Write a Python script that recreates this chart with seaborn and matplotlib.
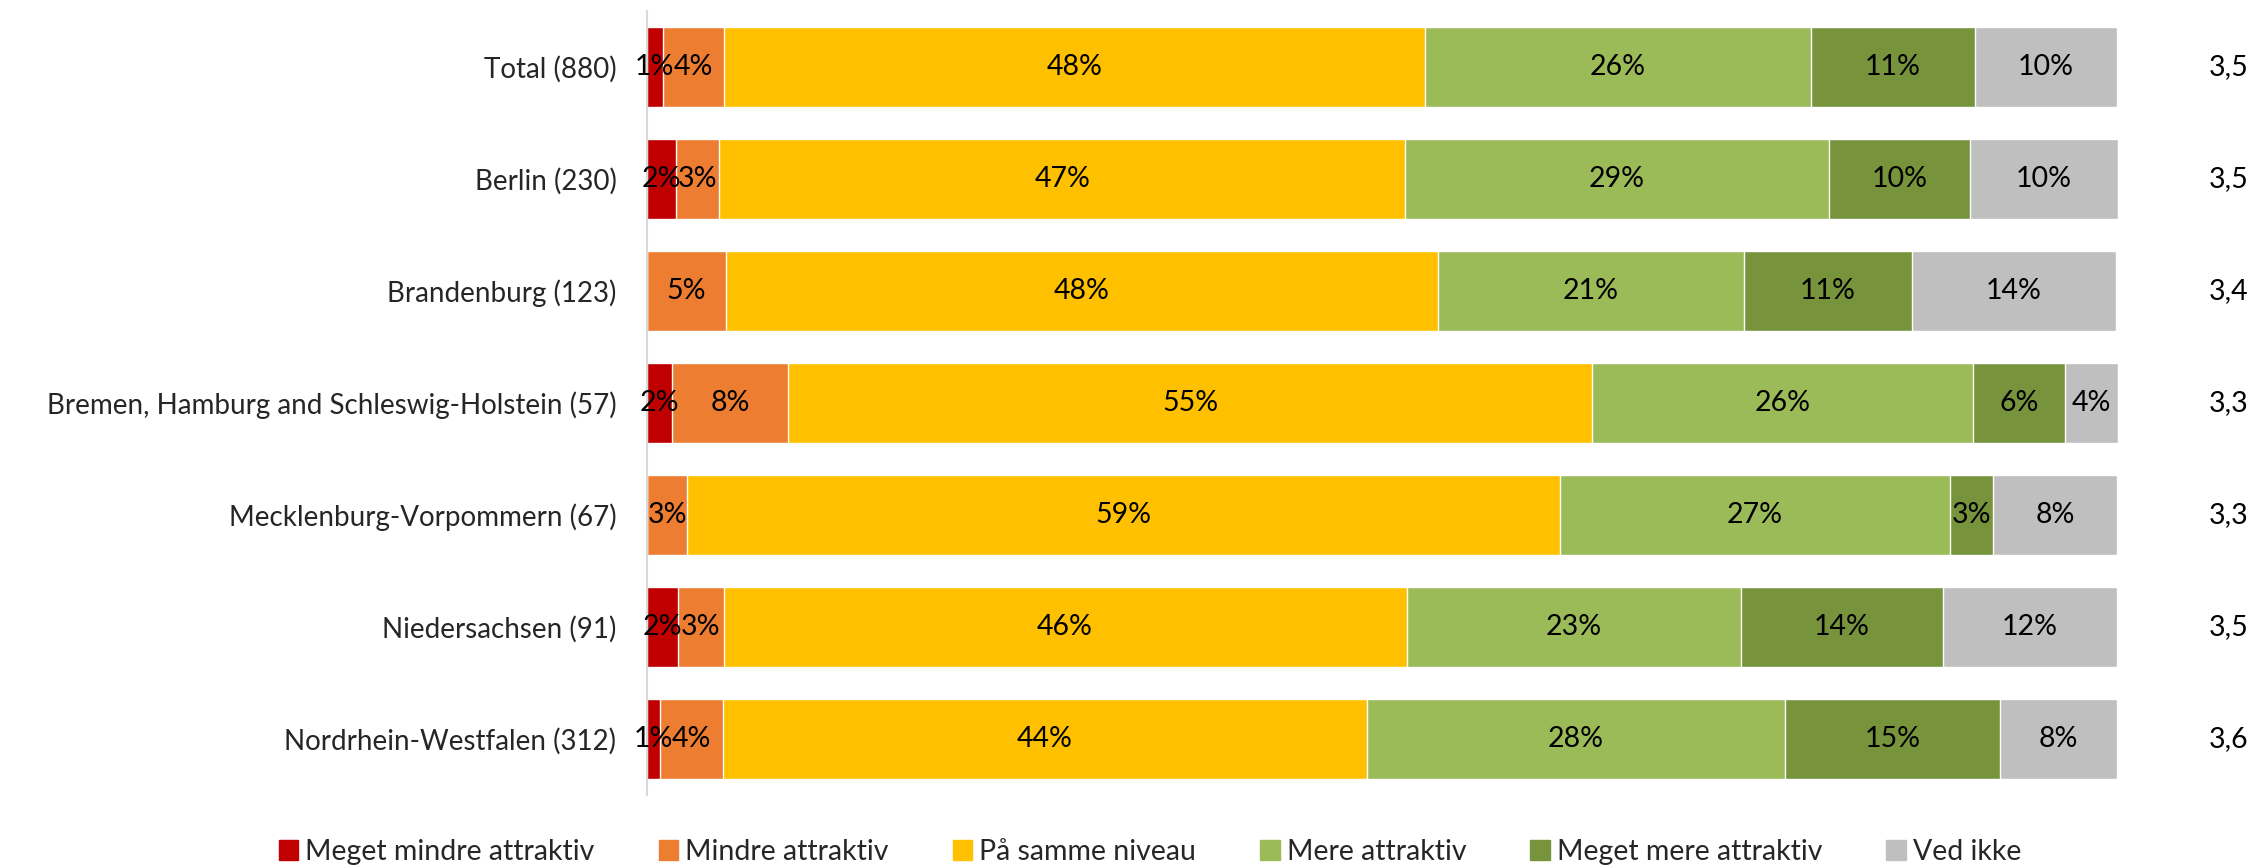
import numpy as np
import pandas as pd
import seaborn as sns
import matplotlib.pyplot as plt

sns.set_theme(style="white")
plt.rcParams['font.family'] = ['Lato', 'DejaVu Sans']

# regions (rows, top to bottom)
regions = ['Total (880)', 'Berlin (230)', 'Brandenburg (123)',
           'Bremen, Hamburg and Schleswig-Holstein (57)',
           'Mecklenburg-Vorpommern (67)', 'Niedersachsen (91)',
           'Nordrhein-Westfalen (312)']

answers = ['Meget mindre attraktiv', 'Mindre attraktiv', 'På samme niveau',
           'Mere attraktiv', 'Meget mere attraktiv', 'Ved ikke']

# shares in percent
meget_mindre = [1.07, 2.0, 0.0, 1.73, 0.0, 2.08, 0.9]
mindre = [4.13, 2.9, 5.37, 7.84, 2.74, 3.12, 4.26]
samme = [47.7, 46.65, 48.4, 54.7, 59.3, 46.45, 43.8]
mere = [26.2, 28.8, 20.8, 25.9, 26.55, 22.7, 28.4]
meget_mere = [11.15, 9.6, 11.4, 6.24, 2.94, 13.74, 14.6]
ved_ikke = [9.7, 10.07, 13.9, 3.6, 8.4, 11.88, 8.0]

# average score shown on the right
means = [3.5, 3.5, 3.4, 3.3, 3.3, 3.5, 3.6]

colors = ['#C00000', '#ED7D31', '#FFC000', '#9BBB59', '#77933C', '#BFBFBF']

df = pd.DataFrame({'region': regions,
                   answers[0]: meget_mindre, answers[1]: mindre,
                   answers[2]: samme, answers[3]: mere,
                   answers[4]: meget_mere, answers[5]: ved_ikke})
cum = df[answers].cumsum(axis=1)

fig = plt.figure(figsize=(22.56, 8.67), dpi=100)
ax = fig.add_axes([0.2868, 0.083, 0.652, 0.904])

# stacked bars: draw cumulative layers from the widest to the narrowest
for i in range(len(answers) - 1, -1, -1):
    sns.barplot(x=cum[answers[i]], y=df['region'], orient='h', color=colors[i],
                width=0.714, edgecolor='white', linewidth=1.0,
                saturation=1, ax=ax)

# percent labels in the middle of each segment
for r in range(len(regions)):
    start = 0
    for a in answers:
        v = df.loc[r, a]
        if v > 0:
            ax.text(start + v / 2, r, f"{round(v)}%", ha='center', va='center',
                    fontsize=20.5, color='black')
        start += v
    ax.text(107.5, r, f"{means[r]:.1f}".replace('.', ','), ha='center',
            va='center', fontsize=20.5, color='black', clip_on=False)

ax.set_xlim(0, 100)
ax.set_ylim(6.5, -0.5)
ax.set_xlabel('')
ax.set_ylabel('')
ax.set_xticks([])
ax.tick_params(axis='y', length=0, pad=22, labelsize=20)
for s in ['top', 'right', 'bottom']:
    ax.spines[s].set_visible(False)
ax.spines['left'].set_color('#D9D9D9')
ax.spines['left'].set_linewidth(1.5)

handles = [plt.Rectangle((0, 0), 1, 1, color=c) for c in colors]
fig.legend(handles, answers, loc='center', ncol=6,
           bbox_to_anchor=(1150 / 2256, 1 - 852 / 867),
           bbox_transform=fig.transFigure, frameon=False, fontsize=20.5,
           handlelength=0.68, handleheight=0.65, handletextpad=0.25,
           columnspacing=2.25)

fig.savefig('out.png', dpi=100)
